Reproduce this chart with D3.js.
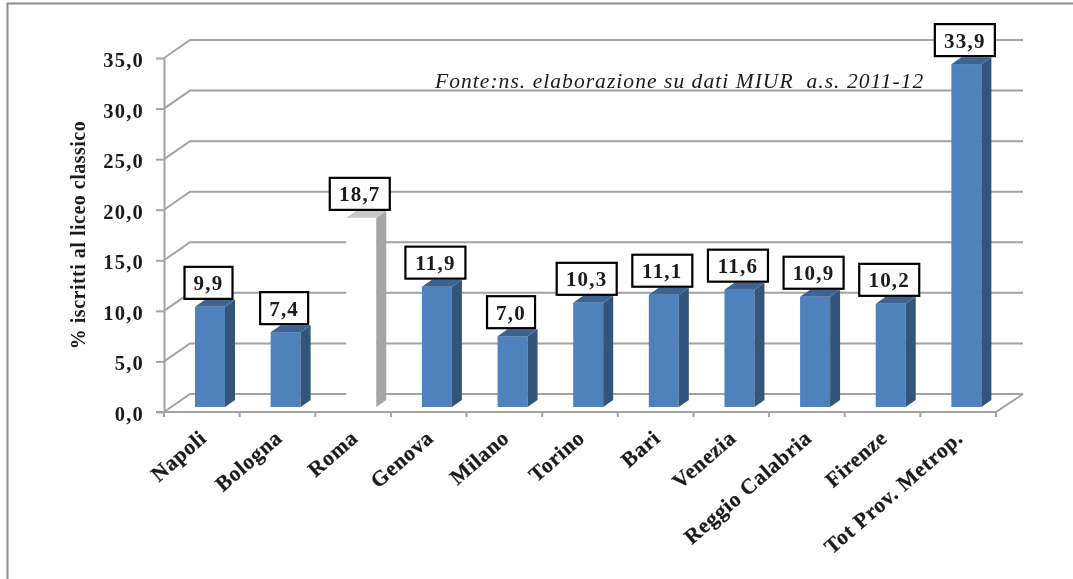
<!DOCTYPE html>
<html>
<head>
<meta charset="utf-8">
<script src="https://cdn.jsdelivr.net/npm/d3@7"></script>
<style>
	html, body { margin: 0; padding: 0; background: #fff; }
	svg { display: block; }
	text { font-family: "Liberation Serif", serif; fill: #1a1a1a; }
</style>
</head>
<body>
<div id="svg-container"></div>
<script>
// DATA
const cities = ["Napoli", "Bologna", "Roma", "Genova", "Milano", "Torino", "Bari", "Venezia", "Reggio Calabria", "Firenze", "Tot Prov. Metrop."];
const values = [9.9, 7.4, 18.7, 11.9, 7.0, 10.3, 11.1, 11.6, 10.9, 10.2, 33.9];
const highlighted = ["Roma"];
const yTicks = [0, 5, 10, 15, 20, 25, 30, 35];
const yTitle = "% iscritti al liceo classico";
const sourceNote = "Fonte:ns. elaborazione su dati MIUR  a.s. 2011-12";

// graph dimension
const w = 1073;
const h = 579;
const padLeft = 164;
const padRight = 77;
const padTop = 58;
const padBottom = 167;
// 3d offsets
const wallX = 26;
const wallY = -18;
const barDepthX = 10;
const barDepthY = -7;
const barW = 30;
const floorGap = 5;

const comma = d3.format(".1f");
const fmt = v => comma(v).replace(".", ",");

// scales
const xScale = d3.scaleBand().domain(cities).range([padLeft, w - padRight]);
const yScale = d3.scaleLinear().domain([0, 35]).range([h - padBottom, padTop]);

const svg = d3.select("#svg-container").append("svg")
	.attr("width", w)
	.attr("height", h);

// soft look of the scanned picture
svg.append("defs").append("filter").attr("id", "soft")
	.append("feGaussianBlur").attr("stdDeviation", 0.45);
const root = svg.append("g").attr("filter", "url(#soft)");

// frame
root.append("path")
	.attr("d", `M${w},3.5 H7.5 V${h}`)
	.attr("fill", "none")
	.attr("stroke", "#8c8c8c")
	.attr("stroke-width", 2);

// back wall grid + side diagonals
const gridColor = "#a3a3a3";
const grid = root.append("g").attr("stroke", gridColor).attr("stroke-width", 2).attr("fill", "none");
grid.selectAll("path.grid")
	.data(yTicks)
	.enter()
	.append("path")
	.attr("class", "grid")
	.attr("d", d => `M${padLeft},${yScale(d)} l${wallX},${wallY} H${w - padRight + wallX + 1}`);
// floor edge on the right
grid.append("path")
	.attr("d", `M${w - padRight + wallX + 1},${yScale(0) + wallY} L${w - padRight},${yScale(0)}`);

// y-axis
const yAxis = d3.axisLeft(yScale)
	.tickValues(yTicks)
	.tickFormat(fmt)
	.tickSize(8)
	.tickPadding(12)
	.tickSizeOuter(0);
const yG = root.append("g")
	.attr("transform", `translate(${padLeft}, 0)`)
	.call(yAxis);
yG.selectAll("line, path").attr("stroke", gridColor).attr("stroke-width", 2);
yG.selectAll("text")
	.attr("font-size", 20.5)
	.attr("font-weight", "bold")
	.attr("letter-spacing", 1.2)
	.attr("fill", "#1a1a1a")
	.attr("y", 2)
	.attr("dy", "0.32em");

// x-axis (ticks sit on the category edges)
const xEdges = cities.map(c => xScale(c)).concat([w - padRight]);
const xG = root.append("g").attr("stroke", gridColor).attr("stroke-width", 2);
xG.append("line")
	.attr("x1", padLeft - 8).attr("x2", w - padRight)
	.attr("y1", yScale(0)).attr("y2", yScale(0));
xG.selectAll("line.tick")
	.data(xEdges)
	.enter()
	.append("line")
	.attr("class", "tick")
	.attr("x1", d => d).attr("x2", d => d)
	.attr("y1", yScale(0)).attr("y2", yScale(0) + 5);

// bars
const barX = c => xScale(c) + 31;
const base = yScale(0) - floorGap;
const barH = v => yScale(0) - yScale(v);
const bars = root.selectAll("g.bar")
	.data(cities.map((c, i) => ({ city: c, value: values[i] })))
	.enter()
	.append("g")
	.attr("class", "bar");
// front
bars.append("rect")
	.attr("x", d => barX(d.city))
	.attr("y", d => base - barH(d.value))
	.attr("width", barW)
	.attr("height", d => barH(d.value))
	.attr("fill", d => highlighted.includes(d.city) ? "#ffffff" : "#4f81bd");
// side
bars.append("path")
	.attr("d", d => {
		const x = barX(d.city) + barW, top = base - barH(d.value);
		return `M${x},${top} l${barDepthX},${barDepthY} V${base + barDepthY} l${-barDepthX},${-barDepthY} Z`;
	})
	.attr("fill", d => highlighted.includes(d.city) ? "#a6a6a6" : "#335479");
// top
bars.append("path")
	.attr("d", d => {
		const x = barX(d.city), top = base - barH(d.value);
		return `M${x},${top} l${barDepthX},${barDepthY} h${barW} l${-barDepthX},${-barDepthY} Z`;
	})
	.attr("fill", d => highlighted.includes(d.city) ? "#c8c8c8" : "#3c6493");

// value labels
const labels = root.selectAll("g.val")
	.data(cities.map((c, i) => ({ city: c, value: values[i] })))
	.enter()
	.append("g")
	.attr("class", "val")
	.attr("transform", d => `translate(${barX(d.city) + barW / 2 - 1.5}, ${base - barH(d.value) - 8})`);
labels.append("rect")
	.attr("x", d => d.value >= 10 ? -30 : -24)
	.attr("y", -32)
	.attr("width", d => d.value >= 10 ? 60 : 48)
	.attr("height", 32)
	.attr("fill", "#fff")
	.attr("stroke", "#000")
	.attr("stroke-width", 2.2);
labels.append("text")
	.text(d => fmt(d.value))
	.attr("text-anchor", "middle")
	.attr("y", -8.5)
	.attr("font-size", 21)
	.attr("font-weight", "bold")
	.attr("letter-spacing", 1.2);

// category labels
root.selectAll("text.cat")
	.data(cities)
	.enter()
	.append("text")
	.attr("class", "cat")
	.text(d => d)
	.attr("text-anchor", "end")
	.attr("font-size", 21.5)
	.attr("font-weight", "bold")
	.attr("letter-spacing", 0.7)
	.attr("stroke", "#1a1a1a")
	.attr("stroke-width", 0.25)
	.attr("transform", d => `translate(${xScale(d) + xScale.bandwidth() / 2 + 6}, 440) rotate(-41)`);

// y title
root.append("text")
	.text(yTitle)
	.attr("text-anchor", "middle")
	.attr("font-size", 20)
	.attr("font-weight", "bold")
	.attr("letter-spacing", 0.5)
	.attr("transform", "translate(84.5, 235) rotate(-90)");

// source note
root.append("text")
	.text(sourceNote)
	.attr("x", 435)
	.attr("y", 88)
	.attr("xml:space", "preserve")
	.attr("font-size", 21.5)
	.attr("font-style", "italic")
	.attr("letter-spacing", 1.05)
	.attr("fill", "#333");
</script>
</body>
</html>
